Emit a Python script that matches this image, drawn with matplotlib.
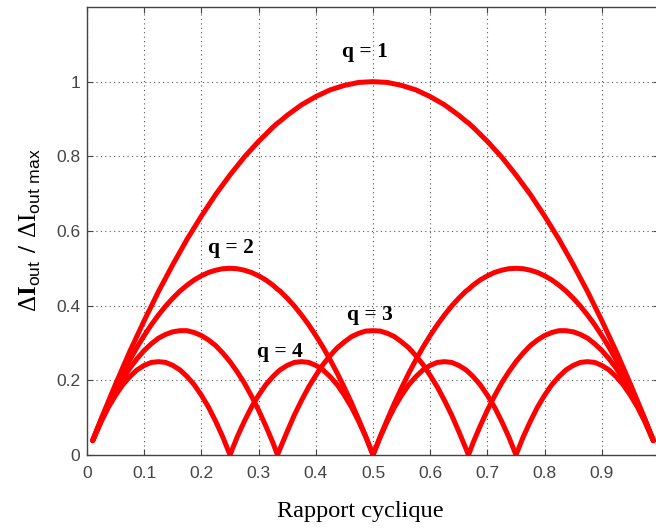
import matplotlib
matplotlib.use("Agg")
import matplotlib.pyplot as plt

# duty cycle samples
duty = [0.01, 0.025, 0.0375, 0.05, 0.0625, 0.075, 0.0875, 0.1, 0.1125, 0.125,
        0.1375, 0.15, 0.1625, 0.175, 0.1875, 0.2, 0.2125, 0.225, 0.2375, 0.25,
        0.2625, 0.275, 0.2875, 0.3, 0.3125, 0.325, 0.333, 0.3375, 0.35, 0.3625,
        0.375, 0.3875, 0.4, 0.4125, 0.425, 0.4375, 0.45, 0.4625, 0.475, 0.4875,
        0.5,
        0.5125, 0.525, 0.5375, 0.55, 0.5625, 0.575, 0.5875, 0.6, 0.6125, 0.625,
        0.6375, 0.65, 0.6625, 0.667, 0.675, 0.6875, 0.7, 0.7125, 0.725, 0.7375,
        0.75, 0.7625, 0.775, 0.7875, 0.8, 0.8125, 0.825, 0.8375, 0.85, 0.8625,
        0.875, 0.8875, 0.9, 0.9125, 0.925, 0.9375, 0.95, 0.9625, 0.975, 0.99]

ripple_q1 = [0.040, 0.098, 0.144, 0.190, 0.234, 0.278, 0.319, 0.360, 0.399, 0.438,
             0.474, 0.510, 0.544, 0.578, 0.609, 0.640, 0.669, 0.698, 0.724, 0.750,
             0.774, 0.798, 0.819, 0.840, 0.859, 0.878, 0.889, 0.894, 0.910, 0.924,
             0.938, 0.949, 0.960, 0.969, 0.978, 0.984, 0.990, 0.994, 0.998, 0.999,
             1.000,
             0.999, 0.998, 0.994, 0.990, 0.984, 0.978, 0.969, 0.960, 0.949, 0.938,
             0.924, 0.910, 0.894, 0.889, 0.878, 0.859, 0.840, 0.819, 0.798, 0.774,
             0.750, 0.724, 0.698, 0.669, 0.640, 0.609, 0.578, 0.544, 0.510, 0.474,
             0.438, 0.399, 0.360, 0.319, 0.278, 0.234, 0.190, 0.144, 0.098, 0.040]

ripple_q2 = [0.039, 0.095, 0.139, 0.180, 0.219, 0.255, 0.289, 0.320, 0.349, 0.375,
             0.399, 0.420, 0.439, 0.455, 0.469, 0.480, 0.489, 0.495, 0.499, 0.500,
             0.499, 0.495, 0.489, 0.480, 0.469, 0.455, 0.444, 0.439, 0.420, 0.399,
             0.375, 0.349, 0.320, 0.289, 0.255, 0.219, 0.180, 0.139, 0.095, 0.049,
             0.000,
             0.049, 0.095, 0.139, 0.180, 0.219, 0.255, 0.289, 0.320, 0.349, 0.375,
             0.399, 0.420, 0.439, 0.444, 0.455, 0.469, 0.480, 0.489, 0.495, 0.499,
             0.500, 0.499, 0.495, 0.489, 0.480, 0.469, 0.455, 0.439, 0.420, 0.399,
             0.375, 0.349, 0.320, 0.289, 0.255, 0.219, 0.180, 0.139, 0.095, 0.039]

ripple_q3 = [0.039, 0.093, 0.133, 0.170, 0.203, 0.233, 0.258, 0.280, 0.298, 0.313,
             0.323, 0.330, 0.333, 0.333, 0.328, 0.320, 0.308, 0.293, 0.273, 0.250,
             0.223, 0.193, 0.158, 0.120, 0.078, 0.033, 0.000, 0.017, 0.063, 0.107,
             0.146, 0.182, 0.213, 0.242, 0.266, 0.287, 0.303, 0.317, 0.326, 0.332,
             0.333,
             0.332, 0.326, 0.317, 0.303, 0.287, 0.266, 0.242, 0.213, 0.182, 0.146,
             0.107, 0.063, 0.017, 0.000, 0.033, 0.078, 0.120, 0.158, 0.193, 0.223,
             0.250, 0.273, 0.293, 0.308, 0.320, 0.328, 0.333, 0.333, 0.330, 0.323,
             0.313, 0.298, 0.280, 0.258, 0.233, 0.203, 0.170, 0.133, 0.093, 0.039]

ripple_q4 = [0.038, 0.090, 0.128, 0.160, 0.188, 0.210, 0.228, 0.240, 0.248, 0.250,
             0.248, 0.240, 0.228, 0.210, 0.188, 0.160, 0.128, 0.090, 0.048, 0.000,
             0.048, 0.090, 0.128, 0.160, 0.188, 0.210, 0.222, 0.228, 0.240, 0.248,
             0.250, 0.248, 0.240, 0.228, 0.210, 0.188, 0.160, 0.128, 0.090, 0.048,
             0.000,
             0.048, 0.090, 0.128, 0.160, 0.188, 0.210, 0.228, 0.240, 0.248, 0.250,
             0.248, 0.240, 0.228, 0.222, 0.210, 0.188, 0.160, 0.128, 0.090, 0.048,
             0.000, 0.048, 0.090, 0.128, 0.160, 0.188, 0.210, 0.228, 0.240, 0.248,
             0.250, 0.248, 0.240, 0.228, 0.210, 0.188, 0.160, 0.128, 0.090, 0.038]

curve_labels = ["q = 1", "q = 2", "q = 3", "q = 4"]
label_x = [0.486, 0.252, 0.495, 0.337]
label_y = [1.08, 0.555, 0.376, 0.275]

xticks = [0, 0.1, 0.2, 0.3, 0.4, 0.5, 0.6, 0.7, 0.8, 0.9, 1]
# the "1" label falls outside the cropped picture
xticklabels = ["0", "0.1", "0.2", "0.3", "0.4", "0.5", "0.6", "0.7", "0.8", "0.9", ""]
yticks = [0, 0.2, 0.4, 0.6, 0.8, 1]
yticklabels = ["0", "0.2", "0.4", "0.6", "0.8", "1"]

plt.rcParams['mathtext.fontset'] = 'custom'
plt.rcParams['mathtext.rm'] = 'Liberation Serif'
plt.rcParams['mathtext.bf'] = 'Liberation Serif:bold'
plt.rcParams['mathtext.sf'] = 'Liberation Sans'

fig = plt.figure(figsize=(6.56, 5.31), dpi=100)
ax = fig.add_axes([87/656, 76/531, 572/656, 448/531])

for ripple in [ripple_q1, ripple_q2, ripple_q3, ripple_q4]:
    ax.plot(duty, ripple, color="#ff0000", lw=3.6, solid_capstyle="round",
            solid_joinstyle="round")

for txt, x, y in zip(curve_labels, label_x, label_y):
    ax.text(x, y, txt, family="Liberation Serif", fontweight="bold",
            fontsize=15.5, ha="center", va="center")

ax.set_xlim(0, 1)
ax.set_ylim(0, 1.2)
ax.set_xticks(xticks)
ax.set_xticklabels(xticklabels)
ax.set_yticks(yticks)
ax.set_yticklabels(yticklabels)
ax.grid(True, linestyle=(0, (1, 3)), color="#555555", lw=0.8)
ax.tick_params(direction="in", top=True, right=True, length=4, width=0.8,
               colors="#444444", labelsize=12.5)
ax.tick_params(axis="x", pad=8)
ax.tick_params(axis="y", pad=5)
for lab in ax.get_xticklabels() + ax.get_yticklabels():
    lab.set_family("Liberation Sans")
for sp in ax.spines.values():
    sp.set_color("#444444")
    sp.set_linewidth(1.0)

ax.set_xlabel("Rapport cyclique", family="Liberation Serif", fontsize=17.5, va="center")
ax.xaxis.set_label_coords((360 - 87) / 572, -(512 - 455) / 448)
ax.set_ylabel(r"$\Delta\mathbf{I}_{\mathsf{out}}\ \mathbf{/}\ \Delta\mathrm{I}_{\mathsf{out\ max}}$",
              fontsize=18, va="center")
ax.yaxis.set_label_coords((30 - 87) / 572, (455 - 230) / 448)

fig.savefig("out.png", dpi=100)
